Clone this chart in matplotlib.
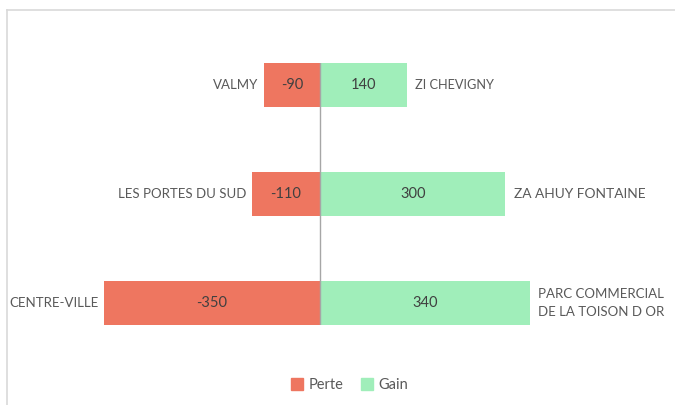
import matplotlib.pyplot as plt
from matplotlib.patches import Patch
from matplotlib.lines import Line2D

plt.rcParams['font.family'] = ['Lato', 'DejaVu Sans']

# data
left_names = ['VALMY', 'LES PORTES DU SUD', 'CENTRE-VILLE']
right_names = ['ZI CHEVIGNY', 'ZA AHUY FONTAINE', 'PARC COMMERCIAL\nDE LA TOISON D OR']
perte = [-90, -110, -350]
gain = [140, 300, 340]

red = '#EE7660'
green = '#A0EEBA'
txt = '#595959'
right_sizes = [9.2, 9.9, 9.5]

fig = plt.figure(figsize=(6.75, 4.05), dpi=100)
ax = fig.add_axes([0, 1 - 325/405, 1, (325 - 63)/405])

pos = list(range(len(left_names)))
ax.barh(pos, perte, height=0.4, color=red, label='Perte')
ax.barh(pos, gain, height=0.4, color=green, label='Gain')
ax.set_ylim(2.2, -0.2)
ax.set_xlim(-320/0.618, 355/0.618)
ax.axvline(0, color='#A6A6A6', lw=1)

for i in pos:
    ax.text(perte[i]/2, i, str(perte[i]), ha='center', va='center', fontsize=10.5, color='#404040')
    ax.text(gain[i]/2, i, str(gain[i]), ha='center', va='center', fontsize=10.5, color='#404040')
    ax.annotate(left_names[i], (perte[i], i), xytext=(-4, 0), textcoords='offset points',
                ha='right', va='center', fontsize=9.5, color=txt)
    ax.annotate(right_names[i], (gain[i], i), xytext=(6, 0), textcoords='offset points',
                ha='left', va='center', fontsize=right_sizes[i], color=txt, linespacing=1.6)

ax.axis('off')

handles = [Patch(color=red, label='Perte'), Patch(color=green, label='Gain')]
fig.legend(handles=handles, loc='center', bbox_to_anchor=(350/675, 1 - 385/405), ncol=2,
           frameon=False, fontsize=10.5, handlelength=0.8, handleheight=0.8,
           handletextpad=0.4, columnspacing=1.2, labelcolor=txt)

# chart border (only top/left visible in the crop)
fig.add_artist(Line2D([7/675, 7/675], [-0.1, 1 - 10/405], color='#D9D9D9', lw=1.2))
fig.add_artist(Line2D([7/675, 1.1], [1 - 10/405, 1 - 10/405], color='#D9D9D9', lw=1.2))

fig.savefig('out.png', dpi=100)
